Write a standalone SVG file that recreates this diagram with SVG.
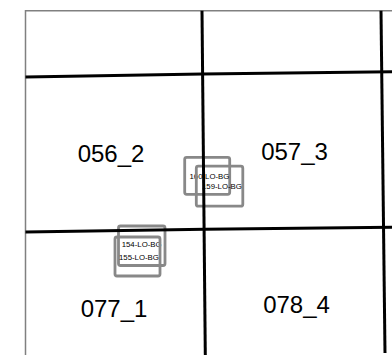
<svg xmlns="http://www.w3.org/2000/svg" width="392" height="355" viewBox="0 0 392 355">
<style>
.bg{fill:#fff}
.border{stroke:#808080;stroke-width:1.5;fill:none}
.grid{stroke:#000;stroke-width:3;fill:none}
.box{fill:none;stroke:#888;stroke-width:2.8}
.lbl{font-family:"Liberation Sans",Arial,sans-serif;font-size:24px;fill:#000}
.sm{font-family:"Liberation Sans",Arial,sans-serif;font-size:7.8px;fill:#000}
</style>
<rect class="bg" x="0" y="0" width="392" height="355"/>
<g id="border">
<polyline class="border" points="25.5,355 25.5,10.7 392,10.7"/>
</g>
<g id="labels">
<g id="n056_2"><text class="lbl" x="111" y="161.7" text-anchor="middle">056_2</text></g>
<g id="n057_3"><text class="lbl" x="294.5" y="160" text-anchor="middle">057_3</text></g>
<g id="n077_1"><text class="lbl" x="114" y="317.3" text-anchor="middle">077_1</text></g>
<g id="n078_4"><text class="lbl" x="296.5" y="313.3" text-anchor="middle">078_4</text></g>
</g>
<g id="lo160">
<rect class="box" x="184.7" y="157.3" width="45" height="37" rx="2"/>
<text class="sm" x="189.5" y="179">160-LO-BG</text>
</g>
<g id="lo159">
<rect class="box" x="196.3" y="166.2" width="46.5" height="40" rx="2"/>
<text class="sm" x="202" y="189">159-LO-BG</text>
</g>
<g id="lo154">
<rect class="box" x="118.5" y="226" width="46.5" height="39.5" rx="2"/>
<text class="sm" x="121.7" y="247.3">154-LO-BG</text>
</g>
<g id="lo155">
<rect class="box" x="115" y="237" width="45" height="39" rx="2"/>
<text class="sm" x="119" y="259.7">155-LO-BG</text>
</g>
<g id="connectors">
<line class="grid" x1="25.5" y1="77" x2="202.5" y2="74"/>
<line class="grid" x1="202.5" y1="74" x2="392" y2="71.7"/>
<line class="grid" x1="25.5" y1="232" x2="205" y2="229.3"/>
<line class="grid" x1="205" y1="229.3" x2="392" y2="227.3"/>
<line class="grid" x1="202" y1="10.7" x2="205.3" y2="355"/>
<line class="grid" x1="381" y1="10.7" x2="385" y2="353"/>
</g>
</svg>
